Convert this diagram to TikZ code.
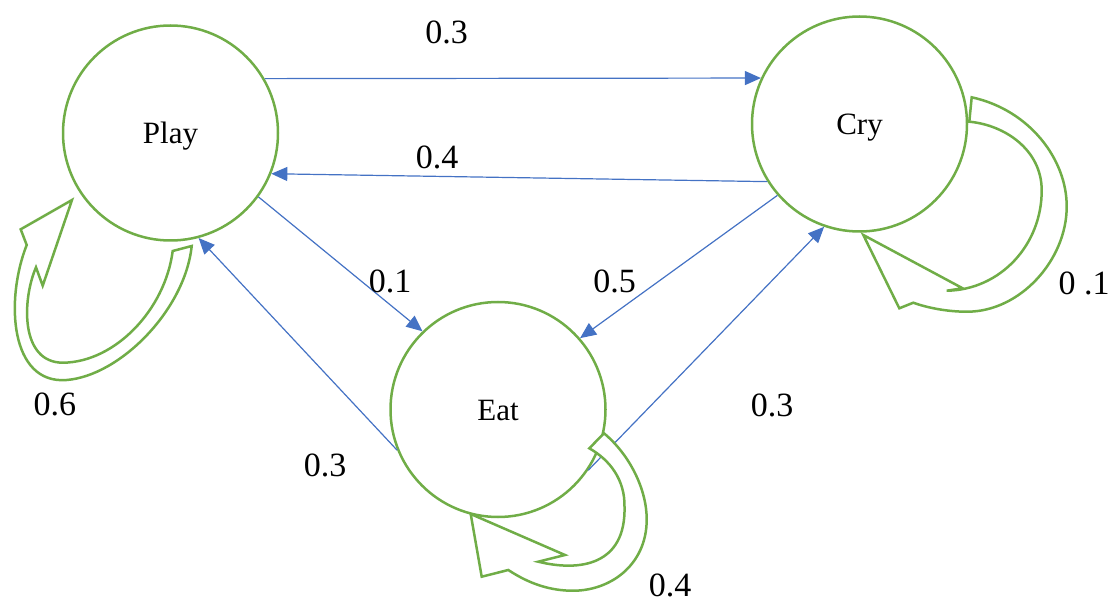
\documentclass[tikz,border=0pt]{standalone}
\usepackage{fontspec}
\setmainfont{Liberation Serif}
\usetikzlibrary{arrows.meta}
\definecolor{stgreen}{HTML}{70AD47}
\definecolor{edblue}{HTML}{4472C4}
\begin{document}
\begin{tikzpicture}[x=1pt,y=-1pt,
  state/.style={circle,draw=stgreen,line width=2.5pt,minimum size=215pt,inner sep=0pt,
    text height=21pt,text depth=0pt,font=\fontsize{31}{36}\selectfont},
  edge/.style={draw=edblue,line width=1.2pt,-{Triangle[length=16pt,width=14pt]},color=edblue},
  loop/.style={draw=stgreen,line width=2.5pt,fill=white,line join=miter},
  lbl/.style={font=\fontsize{34}{40}\selectfont,inner sep=0pt}]
\useasboundingbox (0,0) rectangle (1109,604);
% states
\node[state] (play) at (170.5,133) {Play};
\node[state] (cry) at (859.5,124) {Cry};
\node[state] (eat) at (498,409.5) {Eat};
% edges
\draw[edge] (play.30) -- (cry.155);
\draw[edge] (cry.212.8) -- (play.-22.9);
\draw[edge] (play.-36.6) -- (eat.134.4);
\draw[edge] (cry.221.5) -- (eat.41.2);
\draw[edge] (eat.202.5) -- (play.-75.2);
\draw[edge] (eat.-34) -- (cry.251);
% self loops
\draw[loop] (72,200) -- (20.7,229.3) -- (26.7,245)
  .. controls (5,300) and (10,384.6) .. (66.7,380)
  .. controls (120,375.7) and (185,310) .. (191.7,246)
  -- (172.7,251)
  .. controls (165,310) and (115,362) .. (63.3,362.7)
  .. controls (20,363) and (22,300) .. (36,267.3)
  -- (42.7,285.7) -- cycle;
\draw[loop] (971.7,97.3)
  .. controls (1030,110) and (1067,160) .. (1066.7,206.7)
  .. controls (1066.7,260) and (1020,312) .. (966.7,311.7)
  .. controls (945,311.7) and (925,307) .. (913.3,302.7)
  -- (899.3,308.3) -- (863.3,235) -- (962.7,288.3) -- (946.7,290.7)
  .. controls (1000,290) and (1042,245) .. (1041.7,190)
  .. controls (1041.5,150) and (1005,125) .. (969.3,121.7)
  -- cycle;
\draw[loop] (604,433.3)
  .. controls (630,455) and (647,490) .. (646.7,520)
  .. controls (646.5,565) and (610,592) .. (570,590.7)
  .. controls (545,590) and (525,581) .. (508.3,570)
  -- (481.7,576.7) -- (470.7,514) -- (565,555) -- (538.3,561.7)
  .. controls (580,572) and (626,565) .. (624.5,506.7)
  .. controls (625,480) and (610,460) .. (589.3,448.3)
  -- cycle;
% labels
\node[lbl] (l1) at (446.5,32) {0.3};
\node[lbl] (l2) at (437,157.5) {0.4};
\node[lbl] (l3) at (390,281) {0.1};
\node[lbl] (l4) at (614.5,281) {0.5};
\node[lbl] (l5) at (55,404) {0.6};
\node[lbl] (l6) at (325,465) {0.3};
\node[lbl] (l7) at (772,405) {0.3};
\node[lbl] (l8) at (670,585) {0.4};
\node[lbl] (l9) at (1084,283) {0 .1};
\end{tikzpicture}
\end{document}
